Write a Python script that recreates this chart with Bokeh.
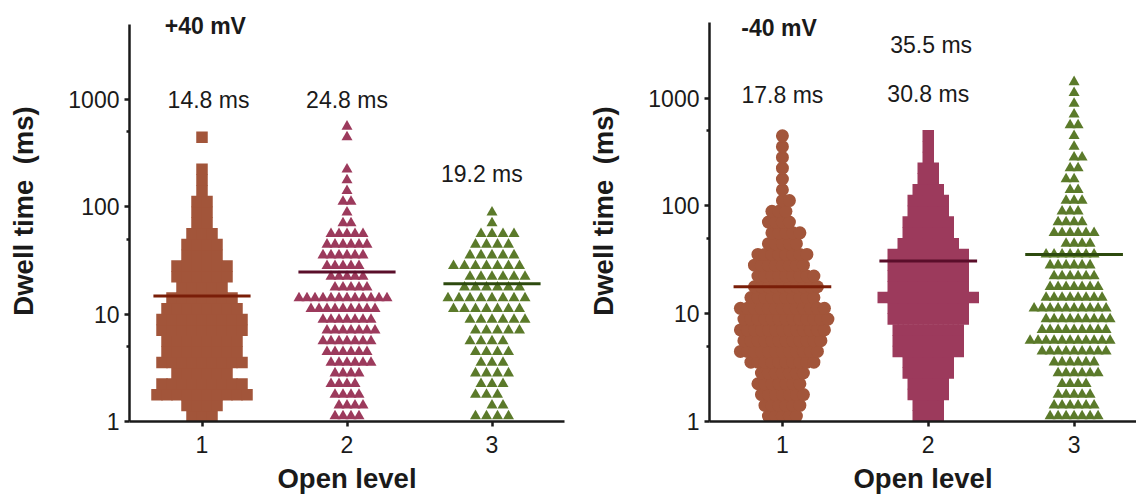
import math
from bokeh.plotting import figure
from bokeh.layouts import row
from bokeh.models import Range1d, FixedTicker, Label, PrintfTickFormatter
from bokeh.embed import file_html
from bokeh.resources import INLINE

# ---------------- data ----------------
levels = [1, 2, 3]
y_ticks = [1, 10, 100, 1000]
y_minor_ticks = [5, 50, 500]

# swarm rows: log10(dwell time / ms), one row per 0.1 decade
row_log10 = [0.05, 0.15, 0.25, 0.35, 0.45, 0.55, 0.65, 0.75, 0.85, 0.95,
             1.05, 1.15, 1.25, 1.35, 1.45, 1.55, 1.65, 1.75, 1.85, 1.95,
             2.05, 2.15, 2.25, 2.35, 2.45, 2.55, 2.65, 2.75, 2.85, 2.95,
             3.05, 3.15]

# number of events drawn in each row
pos40_level1 = [3, 4, 10, 9, 6, 9, 8, 8, 9, 9, 8, 7, 5, 6, 6, 4, 4, 3, 2, 2,
                2, 1, 1, 1, 0, 0, 1]
pos40_level2 = [4, 4, 4, 4, 4, 6, 6, 7, 7, 7, 9, 12, 5, 5, 5, 6, 6, 5, 2, 1,
                2, 1, 1, 1, 0, 0, 1, 1]
pos40_level3 = [4, 2, 3, 3, 4, 3, 4, 4, 5, 6, 7, 8, 6, 6, 7, 5, 4, 4, 1, 1]

neg40_level1 = [5, 6, 7, 7, 7, 10, 12, 12, 13, 13, 13, 10, 10, 9, 8, 8, 5, 5,
                4, 3, 2, 1, 1, 1, 1, 1, 1]
neg40_level2 = [3, 3, 4, 4, 5, 5, 7, 7, 7, 8, 8, 10, 8, 8, 8, 8, 6, 5, 5, 4,
                4, 3, 2, 2, 1, 1, 1]
neg40_level3 = [7, 6, 5, 4, 6, 6, 9, 11, 9, 9, 10, 8, 7, 6, 6, 7, 4, 6, 4, 3,
                3, 2, 2, 2, 2, 1, 1, 2, 1, 1, 1, 1]

mean_pos40 = [14.8, 24.8, 19.2]
mean_neg40 = [17.8, 30.8, 35.5]
mean_text_pos40 = ["14.8 ms", "24.8 ms", "19.2 ms"]
mean_text_neg40 = ["17.8 ms", "30.8 ms", "35.5 ms"]
title_pos40 = "+40 mV"
title_neg40 = "-40 mV"
x_title = "Open level"
y_title = "Dwell time\u00a0\u00a0(ms)"

# ---------------- positions / styles ----------------
text_x_pos40 = [1.045, 2.0, 2.93]
text_y_pos40 = [1000, 1000, 202]
text_x_neg40 = [1.0, 2.0, 2.02]
text_y_neg40 = [1070, 1100, 3090]

FONT = "Liberation Sans"
INK = "#1a1a1a"
COLORS = ["#A2553A", "#9C3A5C", "#5B7A2A"]
MEAN_COLORS = ["#7A1E08", "#5A0E2A", "#2D4A0E"]
H = 496
BOTTOM = 73
FRAME_H = H - BOTTOM


def panel(groups, means, texts, tx, ty, title, title_x, title_y,
          markers, sizes, steps, stagger, width, b_left, b_right, x_end,
          px_per_decade):
    p = figure(width=width, height=H, y_axis_type="log",
               x_range=Range1d(0.5, x_end),
               y_range=Range1d(1, 10 ** (FRAME_H / px_per_decade)),
               output_backend="svg", toolbar_location=None,
               min_border_left=b_left, min_border_right=b_right,
               min_border_top=0, min_border_bottom=BOTTOM)
    p.outline_line_color = None
    p.grid.visible = False
    ppu = (width - b_left - b_right) / (x_end - 0.5)

    for i, (counts, lvl) in enumerate(zip(groups, levels)):
        s = steps[i]
        xs, ys = [], []
        prev = None
        for k, (lg, n) in enumerate(zip(row_log10, counts)):
            if n == 0:
                prev = None
                continue
            natural = 0.0 if n % 2 else 0.5
            shift = 0.0
            if stagger[i] and n > 1 and prev is not None and natural == prev:
                shift = 0.5 if (k // 2) % 2 == 0 else -0.5
            prev = (natural + shift) % 1.0
            for j in range(n):
                xs.append(lvl + ((j - (n - 1) / 2) + shift) * s / ppu)
                ys.append(10 ** lg)
        p.scatter(xs, ys, marker=markers[i], size=sizes[i],
                  fill_color=COLORS[i], line_color=None)

    p.segment(x0=[l - 0.335 for l in levels], x1=[l + 0.335 for l in levels],
              y0=means, y1=means, line_color=MEAN_COLORS, line_width=3)

    for x, y, t in zip(tx, ty, texts):
        p.add_layout(Label(x=x, y=y, text=t, text_align="center",
                           text_baseline="middle", text_font=FONT,
                           text_font_size="23px", text_color=INK))
    p.add_layout(Label(x=title_x, y=title_y, y_units="screen", text=title,
                       text_align="center", text_baseline="middle",
                       text_font=FONT, text_font_size="23px",
                       text_font_style="bold", text_color=INK))

    p.xaxis.ticker = FixedTicker(ticks=levels)
    p.yaxis.ticker = FixedTicker(ticks=y_ticks, minor_ticks=y_minor_ticks)
    p.yaxis.formatter = PrintfTickFormatter(format="%d")
    p.xaxis.bounds = (0.5, 3.5)
    p.yaxis.bounds = (1, 10 ** 3.7)
    p.xaxis.axis_label = x_title
    p.yaxis.axis_label = y_title
    p.xaxis.axis_label_standoff = 7
    p.yaxis.axis_label_standoff = 26
    for ax in (p.xaxis, p.yaxis):
        ax.axis_line_width = 2.5
        ax.axis_line_color = INK
        ax.major_tick_line_width = 2.5
        ax.major_tick_line_color = INK
        ax.minor_tick_line_width = 2.5
        ax.minor_tick_line_color = INK
        ax.major_tick_out = 5
        ax.major_tick_in = 0
        ax.minor_tick_out = 3
        ax.minor_tick_in = 0
        ax.major_label_text_font = FONT
        ax.major_label_text_font_size = "23px"
        ax.major_label_text_color = INK
        ax.axis_label_text_font = FONT
        ax.axis_label_text_font_size = "27.5px"
        ax.axis_label_text_font_style = "bold"
        ax.axis_label_text_color = INK
    p.yaxis.major_label_standoff = 5
    p.xaxis.major_label_standoff = 9
    return p


p1 = panel([pos40_level1, pos40_level2, pos40_level3], mean_pos40,
           mean_text_pos40, text_x_pos40, text_y_pos40,
           title_pos40, 1.023, 396,
           ["square", "triangle", "triangle"], [11.5, 11, 11], [10, 8, 11],
           [False, True, True],
           568, 129, 4, 3.5, 107.8)

p2 = panel([neg40_level1, neg40_level2, neg40_level3], mean_neg40,
           mean_text_neg40, text_x_neg40, text_y_neg40,
           title_neg40, 0.977, 394,
           ["circle", "square", "triangle"], [13, 11.5, 11], [7, 10, 8],
           [True, False, True],
           568, 141, 0, 3.428, 108.3)

layout = row(p1, p2)
open("out.html", "w").write(file_html(layout, INLINE))
